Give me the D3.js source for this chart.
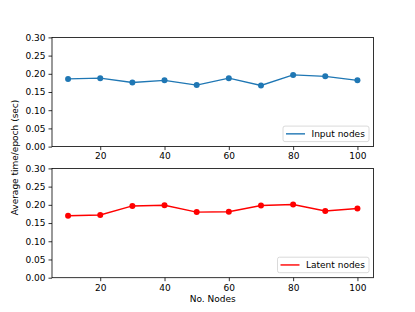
<!DOCTYPE html>
<html>
<head>
<meta charset="utf-8">
<script src="https://cdn.jsdelivr.net/npm/d3@7"></script>
<style>
  body { margin: 0; background: #fff; }
  text { font-family: "DejaVu Sans", sans-serif; fill: #000; }
</style>
</head>
<body>
<div id="chart"></div>
<script>
// node counts on the x axis
var nodes = [10, 20, 30, 40, 50, 60, 70, 80, 90, 100]
// average time per epoch
var inputTimes = [0.186, 0.188, 0.176, 0.182, 0.169, 0.188, 0.168, 0.197, 0.193, 0.182]
var latentTimes = [0.170, 0.172, 0.197, 0.199, 0.180, 0.181, 0.198, 0.201, 0.183, 0.190]
var xTicks = [20, 40, 60, 80, 100]
var yTicks = [0, 0.05, 0.10, 0.15, 0.20, 0.25, 0.30]

const width = 415
const height = 312
const left = 52, right = 373.5

var svg = d3.select('#chart').append('svg')
  .attr('width', width)
  .attr('height', height)

var x = d3.scaleLinear().domain([5, 105]).range([left, right])

// one panel per series
var panels = [
  { top: 37.4, bottom: 146.6, values: inputTimes, color: '#1f77b4', label: 'Input nodes', markers: true },
  { top: 168.4, bottom: 277.7, values: latentTimes, color: '#ff0000', label: 'Latent nodes', markers: true }
]

panels.forEach(function (p) {
  var y = d3.scaleLinear().domain([0, 0.3]).range([p.bottom, p.top])
  var g = svg.append('g')

  var xAxis = g.append('g')
    .attr('transform', 'translate(0,' + p.bottom + ')')
    .call(d3.axisBottom(x).tickValues(xTicks).tickSize(3.5).tickPadding(3))
  var yAxis = g.append('g')
    .attr('transform', 'translate(' + left + ',0)')
    .call(d3.axisLeft(y).tickValues(yTicks).tickFormat(d3.format('.2f')).tickSize(3.5).tickPadding(3))
  ;[xAxis, yAxis].forEach(function (a) {
    a.select('.domain').remove()
    a.selectAll('text').style('font-family', '"DejaVu Sans", sans-serif').style('font-size', '9px').attr('fill', '#000')
    a.selectAll('line').attr('stroke', '#000').attr('stroke-width', 0.8)
  })

  // axes frame
  g.append('rect')
    .attr('x', left).attr('y', p.top)
    .attr('width', right - left).attr('height', p.bottom - p.top)
    .attr('fill', 'none').attr('stroke', '#000').attr('stroke-width', 0.8)

  var line = d3.line()
    .x(function (d, i) { return x(nodes[i]) })
    .y(function (d) { return y(d) })

  g.append('path')
    .datum(p.values)
    .attr('d', line)
    .attr('fill', 'none')
    .attr('stroke', p.color)
    .attr('stroke-width', 1.4)

  g.selectAll('circle')
    .data(p.values)
    .enter()
    .append('circle')
    .attr('cx', function (d, i) { return x(nodes[i]) })
    .attr('cy', function (d) { return y(d) })
    .attr('r', 3)
    .attr('fill', p.color)

  // legend in the lower right corner
  var legW = p.label == 'Input nodes' ? 86 : 91.5
  var legH = 15.5
  var lx = right - 4.5 - legW
  var ly = p.bottom - 5 - legH
  var leg = g.append('g')
  leg.append('rect')
    .attr('x', lx).attr('y', ly).attr('width', legW).attr('height', legH)
    .attr('rx', 2).attr('fill', '#fff').attr('fill-opacity', 0.8)
    .attr('stroke', '#d0d0d0').attr('stroke-width', 0.8)
  leg.append('line')
    .attr('x1', lx + 3).attr('x2', lx + 22)
    .attr('y1', ly + legH / 2).attr('y2', ly + legH / 2)
    .attr('stroke', p.color).attr('stroke-width', 1.4)
  leg.append('text')
    .attr('x', lx + 28.5).attr('y', ly + legH / 2 + 3.3)
    .style('font-size', '9px')
    .text(p.label)
})

svg.append('text')
  .attr('x', (left + right) / 2).attr('y', 302)
  .attr('text-anchor', 'middle')
  .style('font-size', '9px')
  .text('No. Nodes')

svg.append('text')
  .attr('transform', 'translate(18,157.5) rotate(-90)')
  .attr('text-anchor', 'middle')
  .style('font-size', '9px')
  .text('Average time/epoch (sec)')
</script>
</body>
</html>
